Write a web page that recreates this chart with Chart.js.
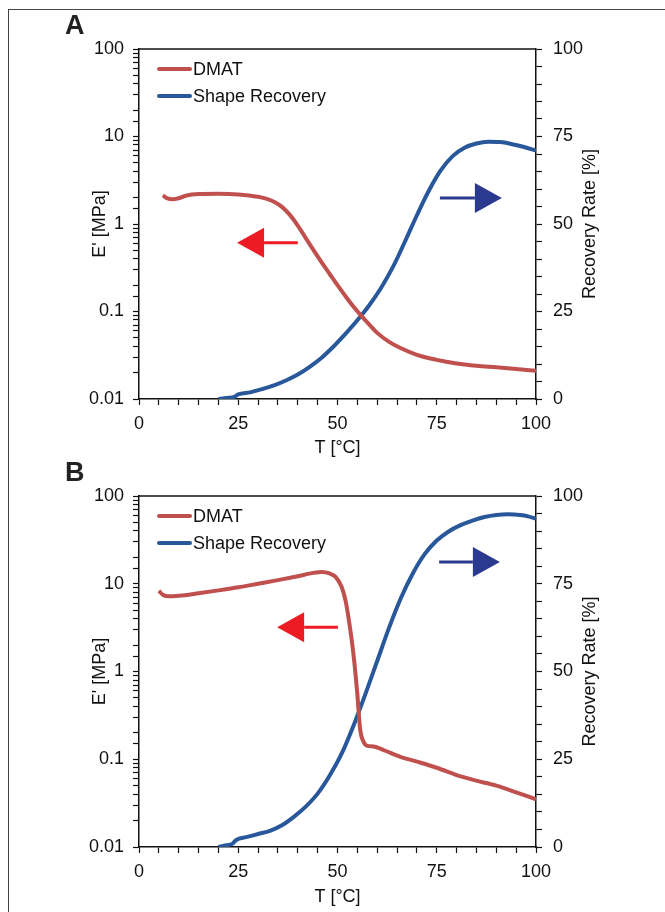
<!DOCTYPE html>
<html>
<head>
<meta charset="utf-8">
<script src="https://cdn.jsdelivr.net/npm/chart.js@4.4.1/dist/chart.umd.min.js"></script>
<style>
  html, body { margin: 0; padding: 0; background: #fff; }
  body { width: 665px; height: 912px; position: relative; overflow: hidden; }
  #frame { position: absolute; left: 8px; top: 9px; width: 720px; height: 960px; border: 1.5px solid #444; }
  canvas { position: absolute; left: 0; }
  #chartA { top: 0; }
  #chartB { top: 448px; }
</style>
</head>
<body>
<div id="frame"></div>
<canvas id="chartA" width="665" height="462"></canvas>
<canvas id="chartB" width="665" height="464"></canvas>
<script>
// panel A - DMAT storage modulus (MPa) vs temperature
var tempDmatA = [6, 7, 8.5, 10, 12, 15, 20, 25, 30, 32, 34, 36, 38, 40, 42, 44, 46, 48, 50, 52, 54, 56, 58, 60, 63, 66, 70, 75, 80, 85, 90, 95, 100];
var modulusA = [2.12, 1.98, 1.92, 1.97, 2.12, 2.2, 2.22, 2.18, 2.05, 1.95, 1.8, 1.57, 1.27, 0.96, 0.69, 0.5, 0.365, 0.27, 0.2, 0.15, 0.114, 0.089, 0.071, 0.057, 0.045, 0.038, 0.032, 0.028, 0.0255, 0.024, 0.023, 0.022, 0.021];
// panel A - shape recovery (%) vs temperature
var tempRecA = [20, 22, 24, 25, 28, 31, 34, 37, 40, 43, 46, 49, 52, 55, 58, 61, 64, 67, 70, 73, 76, 79, 82, 85, 88, 91, 94, 97, 100];
var recoveryA = [0, 0.3, 0.6, 1.3, 1.9, 2.8, 3.9, 5.3, 7.0, 9.2, 11.8, 15, 18.6, 22.5, 26.8, 31.8, 37.8, 45, 52.5, 59.5, 65.3, 69.4, 71.8, 73, 73.5, 73.4, 72.8, 72, 71];

// panel B
var tempDmatB = [5, 6, 7.5, 10, 15, 20, 25, 30, 35, 40, 44, 46, 48, 49.5, 51, 52, 53, 54, 55, 55.7, 56.5, 57.5, 59, 62, 66, 70, 75, 80, 85, 90, 95, 100];
var modulusB = [8.3, 7.5, 7.2, 7.3, 7.8, 8.4, 9.1, 10.0, 11.0, 12.2, 13.3, 13.6, 13.1, 12, 9.3, 6.5, 3.5, 1.6, 0.55, 0.22, 0.16, 0.142, 0.14, 0.125, 0.106, 0.094, 0.08, 0.066, 0.057, 0.05, 0.042, 0.035];
var tempRecB = [20, 22, 23.5, 24.5, 27, 30, 33, 36, 39, 42, 45, 48, 51, 54, 57, 60, 63, 66, 69, 72, 75, 78, 81, 84, 87, 90, 93, 96, 98, 100];
var recoveryB = [0, 0.5, 0.9, 2.0, 2.8, 3.7, 4.6, 6.2, 8.6, 11.5, 15.2, 20.3, 26.5, 34.5, 43.5, 53, 62.5, 71, 78, 83.5, 87.3, 89.9, 91.7, 93, 94, 94.6, 94.8, 94.6, 94.2, 93.5];

// axis ranges and tick labels
var xLabels = [0, 25, 50, 75, 100];
var rightLabels = [0, 25, 50, 75, 100];
var seriesNames = ["DMAT", "Shape Recovery"];

// arrows: [from T, to T, value, axis]
var arrowsA = [[40, 24.7, 0.61, "yL"], [75.8, 91.4, 57.4, "yR"]];
var arrowsB = [[50.1, 34.8, 3.2, "yL"], [75.6, 90.9, 81.2, "yR"]];

var RED = "#C0504D";
var BLUE = "#28589A";
var FONT = "'Liberation Sans', Arial, Helvetica, sans-serif";

Chart.defaults.font.family = FONT;
Chart.defaults.font.size = 18;
Chart.defaults.color = "#111";

function toPoints(xs, ys) {
  var pts = [];
  for (var i = 0; i < xs.length; i++) {
    pts.push({ x: xs[i], y: ys[i] });
  }
  return pts;
}

var extras = {
  id: "extras",
  afterDraw: function (chart, args, opts) {
    var ctx = chart.ctx;
    var area = chart.chartArea;
    var x = chart.scales.x;
    ctx.save();

    // top frame of the plot
    ctx.strokeStyle = "#111";
    ctx.lineWidth = 1.5;
    ctx.beginPath();
    ctx.moveTo(area.left, area.top);
    ctx.lineTo(area.right, area.top);
    ctx.stroke();

    // panel letter
    ctx.fillStyle = "#222";
    ctx.font = "bold 27px " + FONT;
    ctx.textBaseline = "alphabetic";
    ctx.textAlign = "left";
    ctx.fillText(opts.letter, 65, area.top - 15);

    // legend
    ctx.font = "18px " + FONT;
    ctx.textBaseline = "middle";
    chart.data.datasets.forEach(function (ds, i) {
      var ly = area.top + 20 + i * 27;
      ctx.strokeStyle = ds.borderColor;
      ctx.lineWidth = 4;
      ctx.lineCap = "round";
      ctx.beginPath();
      ctx.moveTo(area.left + 20, ly);
      ctx.lineTo(area.left + 51, ly);
      ctx.stroke();
      ctx.fillStyle = "#111";
      ctx.fillText(ds.label, area.left + 54, ly + 1);
    });

    // right axis title (reads bottom to top)
    ctx.save();
    ctx.translate(590, (area.top + area.bottom) / 2);
    ctx.rotate(-Math.PI / 2);
    ctx.textAlign = "center";
    ctx.fillText("Recovery Rate [%]", 0, 0);
    ctx.restore();

    // arrows
    opts.arrows.forEach(function (a) {
      var sc = chart.scales[a[3]];
      var x0 = x.getPixelForValue(a[0]);
      var x1 = x.getPixelForValue(a[1]);
      var y = sc.getPixelForValue(a[2]);
      var dir = x1 > x0 ? 1 : -1;
      var col = a[3] === "yL" ? "#ED1C24" : "#2B3A8F";
      var headLen = 27;
      ctx.strokeStyle = col;
      ctx.fillStyle = col;
      ctx.lineWidth = 3;
      ctx.lineCap = "butt";
      ctx.beginPath();
      ctx.moveTo(x0, y);
      ctx.lineTo(x1 - dir * headLen, y);
      ctx.stroke();
      ctx.beginPath();
      ctx.moveTo(x1, y);
      ctx.lineTo(x1 - dir * headLen, y - 15);
      ctx.lineTo(x1 - dir * headLen, y + 15);
      ctx.closePath();
      ctx.fill();
    });

    ctx.restore();
  },
};

function makeChart(id, dmatT, dmatE, recT, recR, letter, arrows, topPad, xHeight, titlePad) {
  var ctx = document.getElementById(id).getContext("2d");
  return new Chart(ctx, {
    type: "line",
    data: {
      datasets: [
        {
          label: seriesNames[0],
          data: toPoints(dmatT, dmatE),
          borderColor: RED,
          borderWidth: 4,
          pointRadius: 0,
          cubicInterpolationMode: "monotone",
          yAxisID: "yL",
        },
        {
          label: seriesNames[1],
          data: toPoints(recT, recR),
          borderColor: BLUE,
          borderWidth: 4,
          pointRadius: 0,
          cubicInterpolationMode: "monotone",
          yAxisID: "yR",
        },
      ],
    },
    options: {
      responsive: false,
      animation: false,
      devicePixelRatio: 1,
      layout: { padding: { top: topPad, left: 0, right: 0, bottom: 0 } },
      plugins: {
        legend: { display: false },
        tooltip: { enabled: false },
        extras: { letter: letter, arrows: arrows },
      },
      scales: {
        x: {
          type: "linear",
          min: 0,
          max: 100,
          afterFit: function (s) { s.height = xHeight; },
          border: { color: "#111", width: 1.5 },
          grid: { drawOnChartArea: false, tickLength: 6, color: "#111", tickWidth: 1.2 },
          ticks: {
            stepSize: 5,
            autoSkip: false,
            maxRotation: 0,
            padding: 8,
            callback: function (v) { return xLabels.indexOf(v) >= 0 ? String(v) : ""; },
          },
          title: { display: true, text: "T [°C]", padding: { top: 0, bottom: titlePad } },
        },
        yL: {
          type: "logarithmic",
          position: "left",
          min: 0.01,
          max: 100,
          afterFit: function (s) { s.width = 139; },
          border: { color: "#111", width: 1.5 },
          grid: { drawOnChartArea: false, tickLength: 6, color: "#111", tickWidth: 1.2 },
          ticks: {
            autoSkip: false,
            padding: 9,
            callback: function (v) {
              var l = Math.log10(v);
              return Math.abs(l - Math.round(l)) < 1e-9 ? String(v) : "";
            },
          },
          title: { display: true, text: "E' [MPa]", padding: { top: 89, bottom: 0 } },
        },
        yR: {
          type: "linear",
          position: "right",
          min: 0,
          max: 100,
          afterFit: function (s) { s.width = 129; },
          border: { color: "#111", width: 1.5 },
          grid: { drawOnChartArea: false, tickLength: 6, color: "#111", tickWidth: 1.2 },
          ticks: {
            stepSize: 5,
            autoSkip: false,
            padding: 11,
            callback: function (v) { return rightLabels.indexOf(v) >= 0 ? String(v) : ""; },
          },
        },
      },
    },
    plugins: [extras],
  });
}

makeChart("chartA", tempDmatA, modulusA, tempRecA, recoveryA, "A", arrowsA, 49, 63, 3);
makeChart("chartB", tempDmatB, modulusB, tempRecB, recoveryB, "B", arrowsB, 48, 65, 4);
</script>
</body>
</html>
